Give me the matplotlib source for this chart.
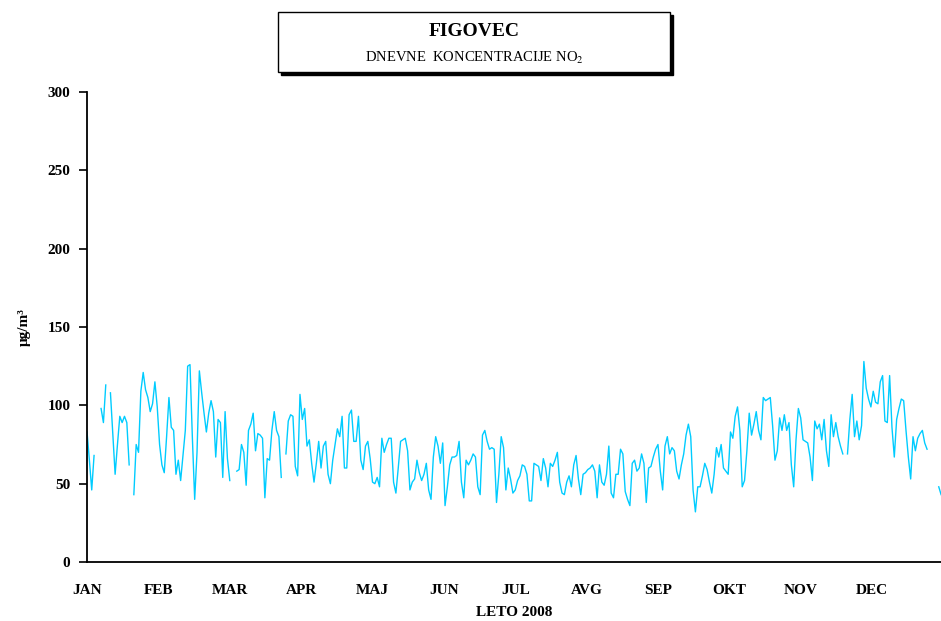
import numpy as np
import matplotlib
matplotlib.use('Agg')
import matplotlib.pyplot as plt
from matplotlib.patches import Rectangle

plt.rcParams['font.family'] = ['Liberation Serif', 'DejaVu Serif']
plt.rcParams['mathtext.fontset'] = 'stix'

nan = np.nan

# dnevne koncentracije NO2 (µg/m3), 1.1.2008 - 31.12.2008
no2 = [
    83, 65, 46, 68, nan, nan, 98, 89, 113, nan, 108, 82, 56, 75, 93, 89, 93, 89, 62, nan,
    43, 75, 70, 109, 121, 110, 105, 96, 101, 115, 99, 75, 62, 57, 80, 105, 86, 84, 56, 65,
    52, 68, 84, 125, 126, 80, 40, 70, 122, 108, 95, 83, 95, 103, 96, 67, 91, 89, 54, 96,
    66, 52, nan, nan, 58, 59, 75, 70, 49, 84, 88, 95, 71, 82, 81, 79, 41, 66, 65, 84,
    96, 84, 80, 54, nan, 69, 90, 94, 93, 61, 55, 107, 91, 98, 74, 78, 63, 51, 63, 77,
    60, 74, 77, 56, 50, 65, 75, 85, 80, 93, 60, 60, 94, 97, 77, 77, 93, 65, 59, 74,
    77, 66, 51, 50, 54, 48, 79, 70, 75, 79, 79, 51, 44, 60, 77, 78, 79, 71, 46, 51,
    53, 65, 57, 52, 56, 63, 46, 40, 67, 80, 74, 63, 76, 36, 48, 62, 67, 67, 68, 77,
    51, 41, 65, 62, 65, 69, 67, 48, 43, 81, 84, 77, 72, 73, 72, 38, 56, 80, 73, 46,
    60, 53, 44, 46, 52, 55, 62, 61, 56, 39, 39, 63, 62, 61, 52, 66, 60, 48, 63, 61,
    65, 70, 51, 44, 43, 51, 55, 48, 62, 68, 53, 43, 56, 57, 59, 60, 62, 58, 41, 62,
    51, 49, 56, 74, 44, 41, 56, 56, 72, 69, 45, 40, 36, 63, 65, 58, 60, 69, 63, 38,
    60, 61, 67, 72, 75, 58, 46, 74, 80, 69, 73, 71, 58, 53, 62, 69, 81, 88, 80, 46,
    32, 48, 48, 55, 63, 59, 51, 44, 56, 73, 67, 75, 60, 58, 56, 83, 79, 93, 99, 84,
    48, 52, 71, 95, 81, 88, 96, 84, 78, 105, 103, 104, 105, 87, 65, 71, 92, 84, 94, 84,
    89, 62, 48, 78, 98, 92, 78, 77, 76, 67, 52, 90, 85, 88, 78, 91, 71, 61, 94, 80,
    89, 80, 74, 69, nan, 69, 91, 107, 80, 90, 78, 87, 128, 111, 104, 99, 109, 102, 101, 115,
    119, 90, 89, 119, 86, 67, 91, 98, 104, 103, 84, 67, 53, 80, 71, 79, 82, 84, 76, 72,
    nan, nan, nan, nan, 48, 43,
]
months = ['JAN', 'FEB', 'MAR', 'APR', 'MAJ', 'JUN', 'JUL', 'AVG', 'SEP', 'OKT', 'NOV', 'DEC']
yticks = [0, 50, 100, 150, 200, 250, 300]

days = np.arange(len(no2))

fig = plt.figure(figsize=(9.41, 6.21), dpi=100)
ax = fig.add_axes([0.0925, 0.095, 0.9076, 0.7568])

ax.plot(days, no2, color='#00CCFF', linewidth=1.0)

ax.set_xlim(0, len(no2) - 1)
ax.set_ylim(0, 300)
ax.set_yticks(yticks)
ax.set_yticklabels([str(v) for v in yticks], fontweight='bold', fontsize=11)
ax.set_xticks(np.arange(12) * len(no2) / 12)
ax.set_xticklabels(months, fontweight='bold', fontsize=11)
ax.tick_params(axis='y', direction='out', length=6, width=1.2, pad=6)
ax.tick_params(axis='x', length=0, pad=16)

for s in ['top', 'right']:
    ax.spines[s].set_visible(False)
ax.spines['left'].set_linewidth(1.3)
ax.spines['bottom'].set_linewidth(1.3)

ax.set_xlabel('LETO 2008', fontweight='bold', fontsize=11, labelpad=6)
ax.set_ylabel('μg/m³', fontweight='bold', fontsize=11, labelpad=12)

# naslov v okvirju s senco
fig.patches.append(Rectangle((0.2985, 0.879), 0.4165, 0.097, transform=fig.transFigure,
                             facecolor='black', edgecolor='black'))
fig.patches.append(Rectangle((0.2955, 0.884), 0.4165, 0.097, transform=fig.transFigure,
                             facecolor='white', edgecolor='black', linewidth=1))
fig.text(0.504, 0.949, 'FIGOVEC', ha='center', va='center', fontsize=14, fontweight='bold')
fig.text(0.504, 0.906, 'DNEVNE  KONCENTRACIJE NO$_2$', ha='center', va='center', fontsize=10.5)

plt.savefig('out.png', dpi=100)
